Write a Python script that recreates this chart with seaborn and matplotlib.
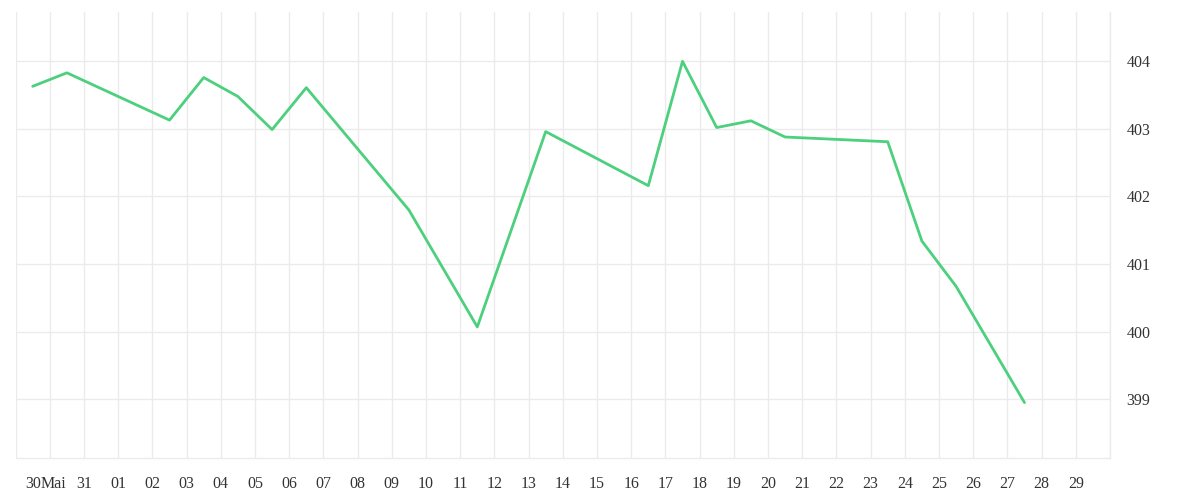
import pandas as pd
import matplotlib.pyplot as plt
import seaborn as sns
from matplotlib.ticker import FixedLocator

# Data (day index from the first gridline, value)
days = [0, 1, 4, 5, 6, 7, 8, 11, 13, 15, 18, 19, 20, 21, 22, 25, 26, 27, 29]
values = [403.63, 403.83, 403.13, 403.76, 403.48, 402.99, 403.61, 401.80, 400.07,
          402.96, 402.16, 404.00, 403.02, 403.12, 402.88, 402.81, 401.34, 400.67, 398.95]

tick_labels = ["30", "Mai", "31"] + [f"{d:02d}" for d in range(1, 30)]
tick_pos = [0.52, 1.12] + list(range(2, 32))
y_ticks = [399, 400, 401, 402, 403, 404]

df = pd.DataFrame({"day": days, "value": values})
df["x"] = df["day"] + 0.5  # points sit mid-day

sns.set_theme(style="white")
plt.rcParams["font.family"] = ["Liberation Serif", "DejaVu Serif"]

fig = plt.figure(figsize=(12, 5), dpi=100)
ax = fig.add_axes([0.013, 0.084, 0.912, 0.892])

sns.lineplot(data=df, x="x", y="value", color="#4cd07d", linewidth=2.0, ax=ax)

ax.set_xlim(0, 32)
ax.set_ylim(398.13, 404.73)

# gridlines every day (minor), labels on major ticks
ax.xaxis.remove_overlapping_locs = False
ax.xaxis.set_minor_locator(FixedLocator([d + 0.0001 * (d == 32) * -1 for d in range(33)]))
ax.set_xticks(tick_pos)
ax.set_xticklabels(tick_labels, fontsize=11.5, color="#333333")
ax.tick_params(axis="x", which="major", length=0, pad=13)
ax.tick_params(axis="x", which="minor", length=9, width=1, color="#ebebeb")
ax.grid(True, axis="x", which="minor", color="#ebebeb", linewidth=1)
ax.grid(False, axis="x", which="major")

ax.yaxis.tick_right()
ax.set_yticks(y_ticks)
ax.set_yticklabels([str(v) for v in y_ticks], fontsize=11.5, color="#333333")
ax.tick_params(axis="y", length=0, pad=12)
ax.grid(True, axis="y", which="major", color="#ebebeb", linewidth=1)

for side in ["top", "left"]:
    ax.spines[side].set_visible(False)
for side in ["bottom", "right"]:
    ax.spines[side].set_color("#ebebeb")
    ax.spines[side].set_linewidth(1)

ax.set_xlabel("")
ax.set_ylabel("")

fig.savefig("out.png", dpi=100)
